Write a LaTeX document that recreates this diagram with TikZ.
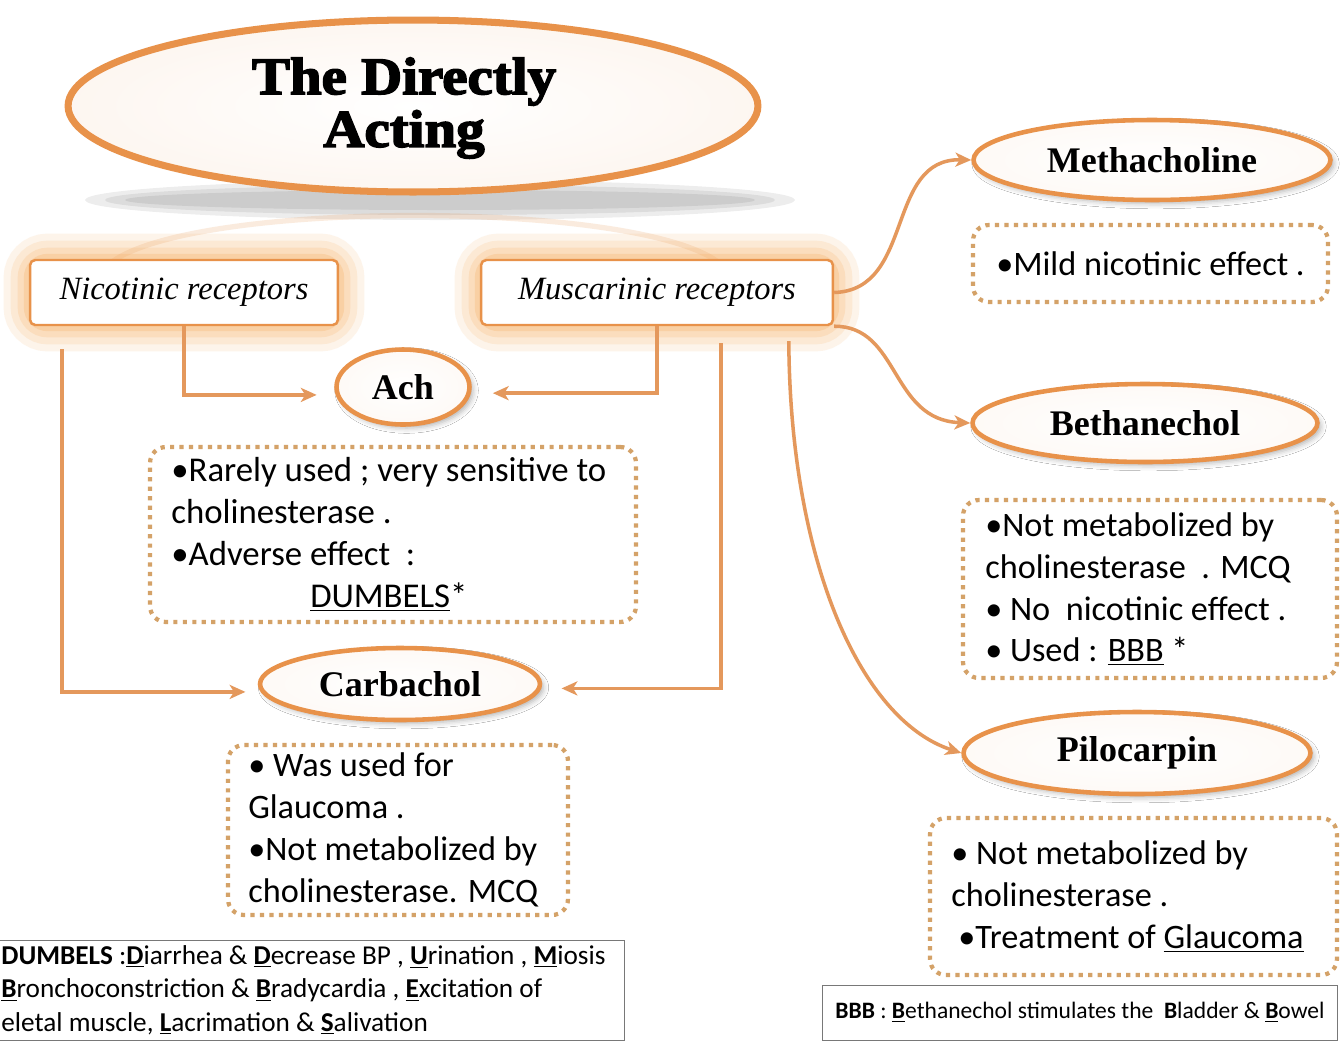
\documentclass[tikz,border=0pt]{standalone}
\usepackage{fontspec}
\setmainfont{Liberation Serif}
\newfontfamily\bodyfont{Carlito}
\newfontfamily\titlefont{Liberation Serif}[BoldFeatures={FakeBold=3,FakeStretch=1.08}]
\usetikzlibrary{shapes.geometric,arrows.meta,calc,shadows.blur}
\definecolor{orng}{RGB}{232,146,74}
\definecolor{arrc}{RGB}{228,152,92}
\definecolor{glowc}{RGB}{247,176,100}
\definecolor{dotc}{RGB}{212,162,104}
\definecolor{boxgray}{RGB}{120,120,120}
\tikzset{
 drug/.style={ellipse, draw=orng, line width=2.6pt, inner color=white, outer color=orng!5,
   font=\fontsize{20.5}{22}\selectfont\bfseries, inner sep=0pt,
   blur shadow={shadow xshift=2pt, shadow yshift=-2pt, shadow blur radius=3pt, shadow opacity=30}},
 recbox/.style={rectangle, rounded corners=3pt, draw=orng, line width=1.4pt, fill=white,
   font=\fontsize{18.5}{20}\selectfont\itshape, minimum height=1.3cm, inner sep=0pt},
 notebox/.style={rectangle, rounded corners=9pt, draw=dotc, line width=2.4pt,
   dash pattern=on 2.4pt off 3pt, fill=white, inner sep=0pt,
   font=\bodyfont\fontsize{19.5}{23.8}\selectfont},
 notetext/.style={anchor=west, align=left, inner sep=0pt, font=\bodyfont\fontsize{19.5}{23.8}\selectfont},
 conn/.style={draw=arrc, line width=2pt, -{Stealth[length=9pt,width=8pt,inset=2.5pt]}},
 legendbox/.style={rectangle, draw=boxgray, line width=0.5pt, fill=white, inner sep=0pt},
 legendtext/.style={inner sep=0pt, font=\bodyfont\fontsize{15.5}{19}\selectfont},
}
\begin{document}
\begin{tikzpicture}[x=0.02cm,y=-0.02cm]
\useasboundingbox (0,0) rectangle (1340,1046);
\clip (0,0) rectangle (1340,1046);
\fill[white] (0,0) rectangle (1340,1046);

% title shadow and reflection
\foreach \rx/\ry in {355/20,335/15,315/10}{
  \fill[black, opacity=0.07] (440,200) ellipse [x radius=\rx, y radius=\ry];
}
\draw[orng, opacity=0.18, line width=3pt] (105,268) .. controls (170,198) and (660,198) .. (725,268);

% title
\node[ellipse, draw=orng, line width=4pt, inner color=white, outer color=orng!8,
  minimum width=13.8cm, minimum height=3.44cm] (title) at (413,106) {};
\node[align=center, inner sep=0pt, font=\titlefont\bfseries\fontsize{30}{30}\selectfont] (titletxt) at (404,108) {The Directly\\Acting};

% glows
\foreach \lw/\op in {30pt/0.13,22pt/0.16,14pt/0.2,7pt/0.28}{
  \draw[glowc, line width=\lw, opacity=\op, rounded corners=10pt] (30,260) rectangle (338,325);
  \draw[glowc, line width=\lw, opacity=\op, rounded corners=10pt] (481,260) rectangle (833,325);
}
\node[recbox, minimum width=6.16cm] (nic) at (184,292.5) {Nicotinic receptors};
\node[recbox, minimum width=7.04cm] (mus) at (657,292.5) {Muscarinic receptors};

% drug ellipses
\node[drug, minimum width=2.66cm, minimum height=1.5cm] (ach) at (403,387) {Ach};
\node[drug, minimum width=5.6cm, minimum height=1.44cm] (carb) at (400,684) {Carbachol};
\node[drug, minimum width=7.14cm, minimum height=1.6cm] (meth) at (1152,160) {Methacholine};
\node[drug, minimum width=6.9cm, minimum height=1.56cm] (beth) at (1145,423) {Bethanechol};
\node[drug, minimum width=6.94cm, minimum height=1.64cm] (pil) at (1137,753) {Pilocarpin};

% notes
\node[notebox, minimum width=9.72cm, minimum height=3.5cm] (achnote) at (393,534.5) {};
\node[notetext, font=\bodyfont\fontsize{19.8}{23.8}\selectfont] (achtxt) at ($(achnote.west)+(23,0)$)
 {•Rarely used ; very sensitive to\\cholinesterase .\\•Adverse effect \ :\\\hspace*{2.78cm}\underline{DUMBELS}*};

\node[notebox, minimum width=6.8cm, minimum height=3.4cm] (carbnote) at (398,830) {};
\node[notetext] (carbtxt) at ($(carbnote.west)+(22,0)$)
 {• Was used for\\Glaucoma .\\•Not metabolized by\\cholinesterase. MCQ};

\node[notebox, minimum width=7.1cm, minimum height=1.54cm] (methnote) at (1150.5,263.5) {•Mild nicotinic effect .};

\node[notebox, minimum width=7.48cm, minimum height=3.56cm] (bethnote) at (1150,589) {};
\node[notetext] (bethtxt) at ($(bethnote.west)+(24,0)$)
 {•Not metabolized by\\cholinesterase \ . MCQ\\• No \ nicotinic effect .\\• Used : \underline{BBB} *};

\node[notebox, minimum width=8.14cm, minimum height=3.14cm] (pilnote) at (1133.5,896.5) {};
\node[notetext] (piltxt) at ($(pilnote.west)+(23,0)$)
 {• Not metabolized by\\cholinesterase .\\\hspace*{0.14cm}•Treatment of \underline{Glaucoma}};

% legends
\node[legendbox, minimum width=12.68cm, minimum height=2cm] (dumb) at (307,990) {};
\node[legendtext, anchor=west, align=left] (dumbtxt) at (1,990)
 {\textbf{DUMBELS} :\underline{\textbf{D}}iarrhea \& \underline{\textbf{D}}ecrease BP , \underline{\textbf{U}}rination , \underline{\textbf{M}}iosis\\
  \underline{\textbf{B}}ronchoconstriction \& \underline{\textbf{B}}radycardia , \underline{\textbf{E}}xcitation of\\
  eletal muscle, \underline{\textbf{L}}acrimation \& \underline{\textbf{S}}alivation};

\node[legendbox, minimum width=10.3cm, minimum height=1.1cm] (bbb) at (1079.5,1012.5) {};
\node[legendtext, font=\bodyfont\fontsize{13.4}{15}\selectfont] (bbbtxt) at (1080,1012.5)
 {\textbf{BBB} : \underline{\textbf{B}}ethanechol stimulates the \ \textbf{B}ladder \& \underline{\textbf{B}}owel};

% connectors
\coordinate (n1) at ($(nic.south west)+(33,23)$);
\coordinate (m1) at ($(mus.south west)+(241,17)$);
\coordinate (m2) at ($(mus.south west)+(309,15)$);
\draw[conn, shorten >=10pt] (nic.south) |- ([yshift=-4.5pt]ach.west);
\draw[conn, shorten >=12pt] (mus.south) |- ([yshift=-3.5pt]ach.east);
\draw[conn, shorten >=7pt] (n1) |- ([yshift=-4.5pt]carb.west);
\draw[conn, shorten >=11pt] (m1) |- ([yshift=-2.5pt]carb.east);
\draw[conn] (mus.east) .. controls (915,290) and (885,158) .. (meth.west);
\draw[conn] (mus.south east) .. controls (900,326) and (890,420) .. (beth.west);
\draw[conn] (m2) .. controls (790,560) and (860,720) .. (pil.west);
\end{tikzpicture}
\end{document}
